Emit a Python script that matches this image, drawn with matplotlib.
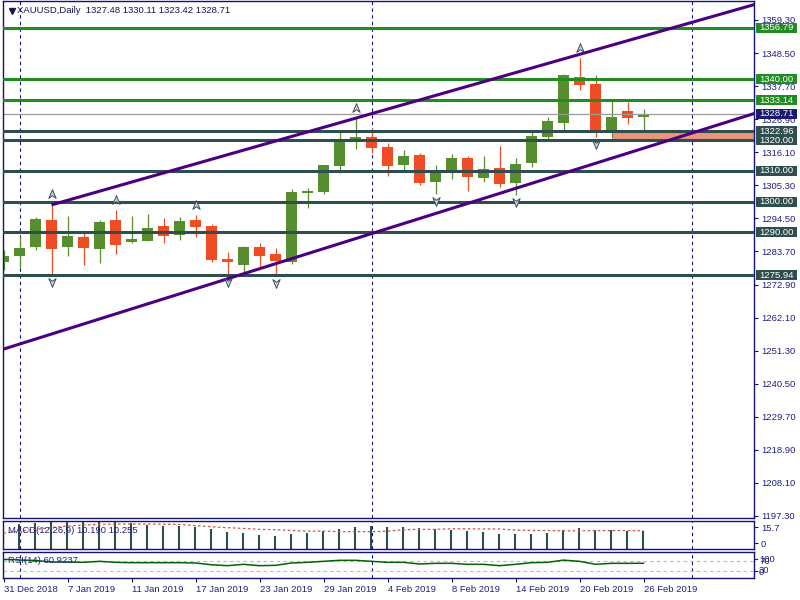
import matplotlib
matplotlib.use("Agg")
import matplotlib.pyplot as plt
from matplotlib.patches import Rectangle
from matplotlib.path import Path
from matplotlib.transforms import blended_transform_factory
import numpy as np

plt.rcParams['font.family'] = ['Liberation Sans', 'DejaVu Sans']

# ---------------- data ----------------
title_text = "XAUUSD,Daily  1327.48 1330.11 1323.42 1328.71"
date_labels = ["31 Dec 2018", "7 Jan 2019", "11 Jan 2019", "17 Jan 2019", "23 Jan 2019",
               "29 Jan 2019", "4 Feb 2019", "8 Feb 2019", "14 Feb 2019", "20 Feb 2019",
               "26 Feb 2019"]
date_label_bars = [0, 4, 8, 12, 16, 20, 24, 28, 32, 36, 40]

opens = [1280.4, 1282.3, 1285.3, 1294.0, 1285.3, 1288.4, 1284.6, 1294.0, 1286.7, 1287.2,
         1292.0, 1289.2, 1294.0, 1292.0, 1281.2, 1279.4, 1285.2, 1282.9, 1280.4, 1302.9,
         1303.2, 1311.7, 1320.2, 1321.1, 1317.8, 1311.9, 1315.2, 1306.5, 1310.1, 1314.2,
         1307.8, 1311.0, 1306.2, 1312.5, 1321.2, 1325.8, 1340.8, 1338.5, 1323.1, 1329.6,
         1327.48]
highs = [1284.2, 1288.7, 1295.1, 1298.9, 1295.3, 1290.2, 1294.0, 1297.2, 1295.3, 1296.0,
         1294.6, 1295.0, 1295.6, 1292.6, 1283.6, 1285.5, 1286.5, 1284.7, 1304.1, 1304.3,
         1312.0, 1323.4, 1327.2, 1323.9, 1319.2, 1316.8, 1316.0, 1311.9, 1315.5, 1314.9,
         1314.9, 1318.1, 1314.2, 1322.6, 1327.5, 1341.7, 1346.8, 1341.3, 1332.9, 1332.6,
         1330.11]
lows = [1277.6, 1278.2, 1284.2, 1275.94, 1282.2, 1279.4, 1280.0, 1282.9, 1286.5, 1287.0,
        1286.5, 1287.4, 1288.5, 1280.3, 1276.0, 1276.6, 1278.2, 1275.7, 1279.6, 1297.8,
        1302.5, 1309.2, 1317.2, 1315.7, 1308.3, 1310.3, 1305.4, 1302.5, 1307.5, 1303.5,
        1306.5, 1304.9, 1302.1, 1311.4, 1320.3, 1322.8, 1336.4, 1321.0, 1321.2, 1325.2,
        1323.42]
closes = [1282.2, 1284.8, 1294.3, 1284.5, 1288.7, 1284.9, 1293.3, 1285.9, 1287.8, 1291.4,
          1288.9, 1293.6, 1291.8, 1280.9, 1280.1, 1285.2, 1282.3, 1280.6, 1303.1, 1303.4,
          1311.9, 1319.8, 1321.1, 1317.6, 1311.7, 1314.9, 1306.1, 1310.1, 1314.2, 1308.1,
          1310.6, 1305.8, 1312.3, 1321.4, 1326.3, 1341.3, 1338.1, 1322.8, 1327.7, 1327.2,
          1328.71]

macd_main = [13.5, 14.0, 14.6, 14.8, 15.2, 15.5, 15.7, 15.6, 14.5, 13.3,
             12.8, 12.8, 12.2, 11.1, 9.7, 8.8, 7.9, 7.5, 8.4, 9.1,
             10.2, 11.1, 12.2, 13.0, 12.2, 12.2, 11.5, 11.0, 10.8, 10.2,
             9.7, 8.4, 8.4, 8.4, 8.8, 10.6, 11.5, 10.6, 10.6, 10.0,
             10.19]
macd_signal = [8.8, 10.0, 11.0, 12.0, 12.8, 13.4, 13.7, 13.9, 13.9, 13.9,
               13.8, 13.7, 13.0, 12.4, 11.9, 11.5, 11.0, 10.8, 10.4, 10.0,
               10.0, 9.7, 9.7, 9.7, 10.0, 10.8, 11.0, 11.0, 11.3, 11.3,
               11.2, 11.2, 10.6, 10.4, 10.3, 10.2, 10.2, 10.3, 10.3, 10.3,
               10.255]
rsi_values = [76.7, 74.0, 72.0, 66.0, 66.0, 64.7, 68.7, 64.7, 63.3, 63.3,
              63.3, 63.3, 62.0, 55.0, 51.3, 56.7, 51.3, 52.7, 62.0, 64.7,
              68.7, 72.7, 72.7, 68.7, 64.7, 64.7, 58.0, 60.7, 60.7, 56.7,
              56.7, 51.3, 56.7, 63.3, 64.7, 73.5, 68.7, 56.7, 60.7, 60.7,
              60.92]

green_levels = [1356.79, 1340.00, 1333.14]
slate_levels = [1322.96, 1320.00, 1310.00, 1300.00, 1290.00, 1275.94]
bid_price = 1328.71
zone_low, zone_high = 1320.00, 1322.96
zone_start_bar = 38
upper_anchor_bars = [3, 22]
lower_line_points = [(0, 1251.8), (40, 1317.4)]
separator_bars = [1, 23, 43]
price_ticks = [1197.30, 1208.10, 1218.90, 1229.70, 1240.50, 1251.30, 1262.10, 1272.90,
               1283.70, 1294.50, 1305.30, 1316.10, 1326.90, 1337.70, 1348.50, 1359.30]
macd_label = "MACD(12,26,9) 10.190 10.255"
rsi_label = "RSI(14) 60.9237"

# ---------------- styling ----------------
NAVY = '#14146e'
TXT = '#202080'
BULL = '#578e30'
BEAR = '#f24c24'
GREEN = '#228b22'
SLATE = '#2f4f4f'
INDIGO = '#4b0082'
FS = 6.8

W, H = 800, 600
fig = plt.figure(figsize=(8, 6), dpi=100)
fig.patch.set_facecolor('white')

left_px, right_px = 2.5, 754.0
def axes_rect(top, bottom):
    return [left_px / W, 1 - bottom / H, (right_px - left_px) / W, (bottom - top) / H]

ax = fig.add_axes(axes_rect(1.0, 517.7))
axm = fig.add_axes(axes_rect(520.7, 549.3))
axr = fig.add_axes(axes_rect(552.3, 578.3))

xlim = (-0.0625, 46.906)
for a in (ax, axm, axr):
    a.set_xlim(*xlim)
    a.set_facecolor('white')
    for s in a.spines.values():
        s.set_color(NAVY)
        s.set_linewidth(1.0)
    a.set_xticks([])
    for b in separator_bars:
        a.axvline(b, color=NAVY, lw=0.8, ls=(0, (3, 3)), zorder=1)

# ---------------- main panel ----------------
ax.set_ylim(1196.74, 1365.49)
ax.yaxis.tick_right()
ax.set_yticks(price_ticks)
ax.set_yticklabels(["%.2f" % v for v in price_ticks])
ax.tick_params(axis='y', length=3, width=0.8, color=NAVY, labelcolor=TXT,
               labelsize=FS, pad=2)

n = len(opens)
xs = np.arange(n)

# zone rectangle (background)
ax.add_patch(Rectangle((zone_start_bar, zone_low), xlim[1] - zone_start_bar + 1,
                       zone_high - zone_low, facecolor='#e9967a', edgecolor='none',
                       zorder=1.5))

# candles
bw = 0.66
for i in range(n):
    o, h, l, c = opens[i], highs[i], lows[i], closes[i]
    col = BULL if c >= o else BEAR
    ax.vlines(i, l, h, color=col, lw=0.9, zorder=2)
    lo, hi = min(o, c), max(o, c)
    hgt = max(hi - lo, 0.35)
    ax.add_patch(Rectangle((i - bw / 2, lo), bw, hgt, facecolor=col, edgecolor='none',
                           zorder=2.2))

# horizontal levels
ax.axhline(bid_price, color='#9a9a9a', lw=0.9, zorder=2.4)
for p in green_levels:
    ax.axhline(p, color=GREEN, lw=2.2, zorder=3)
for p in slate_levels:
    ax.axhline(p, color=SLATE, lw=2.2, zorder=3)

# channel lines
b0, b1 = upper_anchor_bars
slope_u = (highs[b1] - highs[b0]) / (b1 - b0)
xu = np.array([b0, xlim[1] + 1])
ax.plot(xu, highs[b0] + slope_u * (xu - b0), color=INDIGO, lw=2.2, zorder=3.2,
        solid_capstyle='butt')
(lx0, ly0), (lx1, ly1) = lower_line_points
slope_l = (ly1 - ly0) / (lx1 - lx0)
xl = np.array([xlim[0] - 1, xlim[1] + 1])
ax.plot(xl, ly0 + slope_l * (xl - lx0), color=INDIGO, lw=2.2, zorder=3.2)

# fractals
up_fr = [i for i in range(2, n - 2)
         if highs[i] > max(highs[i - 2], highs[i - 1], highs[i + 1], highs[i + 2])]
dn_fr = [i for i in range(2, n - 2)
         if lows[i] < min(lows[i - 2], lows[i - 1], lows[i + 1], lows[i + 2])]
up_marker = Path([(0, 1), (0.75, -0.8), (0, -0.25), (-0.75, -0.8), (0, 1)])
dn_marker = Path([(0, -1), (0.75, 0.8), (0, 0.25), (-0.75, 0.8), (0, -1)])
ax.plot(up_fr, [highs[i] + 3.4 for i in up_fr], ls='none', marker=up_marker, ms=7,
        mfc='#c9d3dc', mec='#3a4a5a', mew=0.7, zorder=4)
ax.plot(dn_fr, [lows[i] - 2.3 for i in dn_fr], ls='none', marker=dn_marker, ms=7,
        mfc='#c9d3dc', mec='#3a4a5a', mew=0.7, zorder=4)

# right-side price boxes
trans = blended_transform_factory(ax.transAxes, ax.transData)
axw = right_px - left_px
box_h = 10 / 3.062
def price_box(p, color):
    ax.add_patch(Rectangle((1 + 2 / axw, p - box_h / 2), 41 / axw, box_h, transform=trans,
                           facecolor=color, edgecolor='none', clip_on=False, zorder=6))
    ax.text(1 + 5.5 / axw, p, "%.2f" % p, transform=trans, ha='left', va='center',
            color='white', fontsize=FS, clip_on=False, zorder=7)
for p in green_levels:
    price_box(p, GREEN)
price_box(bid_price, '#191970')
for p in slate_levels:
    price_box(p, SLATE)

# title
ax.plot([9.5 / axw], [1 - 10 / 516.7], transform=ax.transAxes, marker='v', ms=4.2,
        color='#1a1a50', clip_on=False, zorder=7)
ax.text(14.5 / axw, 1 - 9.5 / 516.7, title_text, transform=ax.transAxes, ha='left',
        va='center', fontsize=FS, color='#141450', zorder=7)

# ---------------- MACD panel ----------------
axm.set_ylim(0, 15.75)
axm.vlines(xs - 0.03, 0, macd_main, color=SLATE, lw=1.5, zorder=2)
axm.plot(xs, macd_signal, color='#d05050', lw=0.9, ls=(0, (2, 2)), zorder=3)
axm.yaxis.tick_right()
axm.set_yticks([3.3, 12.1])
axm.set_yticklabels(['0', '15.7'])
axm.tick_params(axis='y', length=3, width=0.8, color=NAVY, labelcolor=TXT,
                labelsize=FS, pad=2)
axm.text(5 / axw, 0.66, macd_label, transform=axm.transAxes, ha='left', va='center',
         fontsize=FS, color=TXT, zorder=5)

# ---------------- RSI panel ----------------
axr.set_ylim(0.8, 104.8)
for lv in (70, 30):
    axr.axhline(lv, color='#b8b8b8', lw=0.8, ls=(0, (3, 3)), zorder=1)
axr.plot(xs, rsi_values, color='#006400', lw=1.1, zorder=3)
axr.set_yticks([])
axr.text(5 / axw, 70.5, rsi_label, ha='left', va='center', fontsize=FS, color=TXT,
         transform=blended_transform_factory(axr.transAxes, axr.transData), zorder=5)
rtrans = blended_transform_factory(axr.transAxes, axr.transData)
for lab, v in (("100", 76.8), ("70", 67.2), ("30", 30.0), ("0", 24.8)):
    axr.text(1 + 5 / axw, v, lab, transform=rtrans, ha='left', va='center',
             fontsize=FS, color=TXT, clip_on=False)
for v in (76.8, 30.0):
    axr.plot([1, 1 + 3 / axw], [v, v], transform=rtrans, color=NAVY, lw=0.8,
             clip_on=False)

axr.set_xticks(date_label_bars)
axr.set_xticklabels(date_labels, ha='left')
axr.tick_params(axis='x', length=3, width=0.8, color=NAVY, labelcolor=TXT,
                labelsize=FS, pad=1.5)

fig.savefig("out.png", dpi=100, facecolor='white')
